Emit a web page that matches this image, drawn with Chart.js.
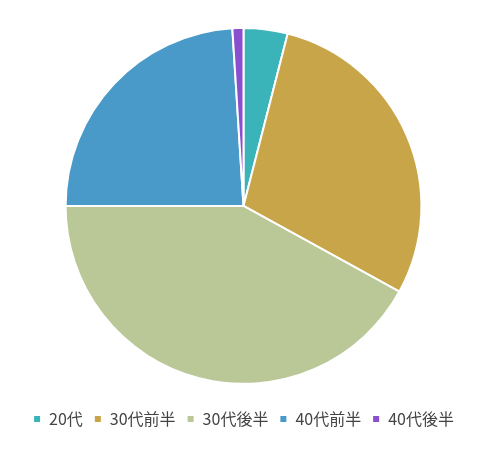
<!DOCTYPE html>
<html>
<head>
<meta charset="utf-8">
<script src="https://cdn.jsdelivr.net/npm/chart.js@4"></script>
<style>
  html, body { margin: 0; padding: 0; background: #fff; }
  .chart-container { width: 490px; height: 454px; }
</style>
</head>
<body>
<div class="chart-container">
  <canvas id="chart"></canvas>
</div>
<script>
const labels = ['20代', '30代前半', '30代後半', '40代前半', '40代後半'];
const values = [4, 29, 42, 24, 1];
const colors = ['#3bb4b9', '#c8a548', '#b9c896', '#4a9ac9', '#8a4fcf'];

const ctx = document.getElementById('chart').getContext('2d');
new Chart(ctx, {
  type: 'pie',
  data: {
    labels: labels,
    datasets: [
      {
        data: values,
        backgroundColor: colors,
        borderColor: '#ffffff',
        borderWidth: 2,
      },
    ],
  },
  options: {
    responsive: true,
    maintainAspectRatio: false,
    animation: false,
    layout: { padding: { top: 27, bottom: 17, right: 3 } },
    plugins: {
      legend: {
        position: 'bottom',
        // empty title just adds room above the legend row
        title: { display: true, text: '', font: { size: 1 }, padding: { top: 14, bottom: 0 } },
        labels: {
          boxWidth: 8,
          boxHeight: 8,
          padding: 11,
          color: '#444',
          font: { family: "'Noto Sans CJK JP', 'Noto Sans', sans-serif", size: 16 },
        },
      },
      tooltip: { enabled: false },
    },
  },
});
</script>
</body>
</html>
